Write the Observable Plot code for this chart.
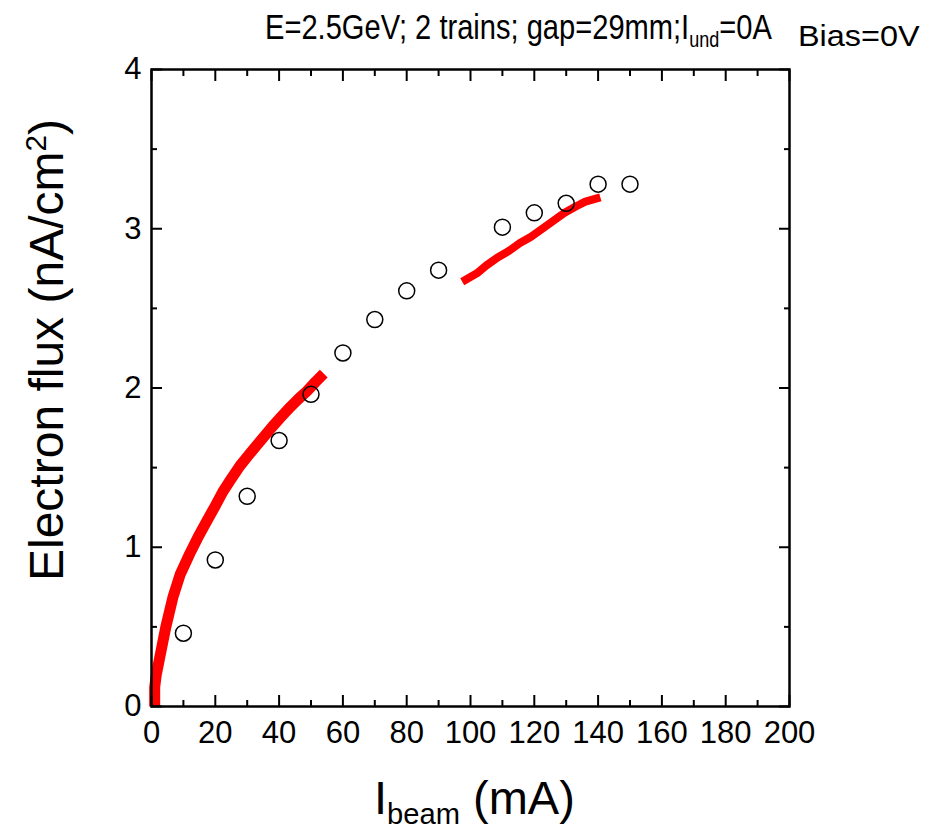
<!DOCTYPE html>
<html>
<head>
<meta charset="utf-8">
<script src="https://cdn.jsdelivr.net/npm/d3@7"></script>
<script src="https://cdn.jsdelivr.net/npm/@observablehq/plot@0.6"></script>
<style>
  body { margin: 0; background: #fff; }
  #wrap { position: relative; width: 930px; height: 830px; font-family: "Liberation Sans", Arial, sans-serif; }
  .lbl { position: absolute; color: #000; white-space: nowrap; line-height: 1; }
  sub, sup { font-size: 62%; line-height: 0; }
</style>
</head>
<body>
<div id="wrap"></div>
<script>
// Measured points (circles)
const measI = [10, 20, 30, 40, 50, 60, 70, 80, 90, 110, 120, 130, 140, 150];
const measFlux = [0.46, 0.92, 1.32, 1.67, 1.96, 2.22, 2.43, 2.61, 2.74, 3.01, 3.10, 3.16, 3.28, 3.28];
// Red curve segment 1 (low current)
const curve1I = [1, 1, 1.5, 2.5, 4.5, 6.7, 9, 12, 14.5, 17.2, 20, 22.4, 25, 27.7, 30.5, 33, 35.5, 38, 40.7, 43.5, 46, 48.7, 51.5, 54];
const curve1Flux = [0.0, 0.12, 0.2, 0.3, 0.5, 0.685, 0.83, 0.96, 1.06, 1.16, 1.26, 1.35, 1.43, 1.51, 1.58, 1.64, 1.70, 1.76, 1.82, 1.88, 1.93, 1.98, 2.04, 2.09];
// Red curve segment 2 (high current)
const curve2I = [98.5, 102, 105, 108.5, 112, 115.5, 119, 122.5, 126, 129.5, 133, 136, 139.5];
const curve2Flux = [2.68, 2.72, 2.77, 2.82, 2.86, 2.91, 2.95, 3.00, 3.05, 3.10, 3.14, 3.17, 3.19];
// Axis ticks
const xMajor = [0, 20, 40, 60, 80, 100, 120, 140, 160, 180, 200];
const xMinor = [10, 30, 50, 70, 90, 110, 130, 150, 170, 190];
const yMajor = [0, 1, 2, 3, 4];
const yMinor = [0.5, 1.5, 2.5, 3.5];

const meas = measI.map((x, i) => ({x, y: measFlux[i]}));
const c1 = curve1I.map((x, i) => ({x, y: curve1Flux[i]}));
const c2 = curve2I.map((x, i) => ({x, y: curve2Flux[i]}));

const font = "Liberation Sans, Arial, sans-serif";
const chart = Plot.plot({
  width: 930,
  height: 830,
  marginLeft: 151,
  marginRight: 141,
  marginTop: 69,
  marginBottom: 124,
  style: {fontFamily: font, fontSize: "31px", color: "#000", background: "#fff"},
  x: {domain: [0, 200]},
  y: {domain: [0, 4]},
  marks: [
    Plot.line(c1, {x: "x", y: "y", stroke: "#ff0000", strokeWidth: 11, strokeLinecap: "butt", strokeLinejoin: "round"}),
    Plot.line(c2, {x: "x", y: "y", stroke: "#ff0000", strokeWidth: 8, strokeLinecap: "square", strokeLinejoin: "miter"}),
    Plot.dot(meas, {x: "x", y: "y", r: 8, stroke: "#000", strokeWidth: 1.5, fill: "none"}),
    Plot.axisX(xMajor, {anchor: "bottom", tickSize: -11, tickPadding: 25, strokeWidth: 2, fontSize: 31, label: null, tickFormat: d => String(d)}),
    Plot.axisX(xMinor, {anchor: "bottom", tickSize: -6, tickFormat: () => "", strokeWidth: 2, label: null}),
    Plot.axisX(xMajor, {anchor: "top", tickSize: -11, tickFormat: () => "", strokeWidth: 2, label: null}),
    Plot.axisX(xMinor, {anchor: "top", tickSize: -6, tickFormat: () => "", strokeWidth: 2, label: null}),
    Plot.axisY(yMajor, {anchor: "left", tickSize: -11, tickPadding: 21, strokeWidth: 2, fontSize: 31, label: null, tickFormat: d => String(d)}),
    Plot.axisY(yMinor, {anchor: "left", tickSize: -6, tickFormat: () => "", strokeWidth: 2, label: null}),
    Plot.axisY(yMajor, {anchor: "right", tickSize: -11, tickFormat: () => "", strokeWidth: 2, label: null}),
    Plot.axisY(yMinor, {anchor: "right", tickSize: -6, tickFormat: () => "", strokeWidth: 2, label: null}),
    Plot.frame({stroke: "#000", strokeWidth: 2.5})
  ]
});
const wrap = document.getElementById("wrap");
wrap.appendChild(chart);

function addLabel(html, css) {
  const d = document.createElement("div");
  d.className = "lbl";
  d.innerHTML = html;
  Object.assign(d.style, css);
  wrap.appendChild(d);
  return d;
}
function fitWidth(el, w) {
  const s = w / el.offsetWidth;
  el.style.transformOrigin = "left top";
  el.style.transform = `scaleX(${s})`;
}
const t1 = addLabel('E=2.5GeV; 2 trains; gap=29mm;I<sub>und</sub>=0A', {left: "265px", top: "9px", fontSize: "35px"});
fitWidth(t1, 507);
const t2 = addLabel('Bias=0V', {left: "798px", top: "21px", fontSize: "30px"});
fitWidth(t2, 122);
addLabel('I<sub>beam</sub> (mA)', {left: "374px", top: "774px", fontSize: "47px"});
const yl = addLabel('Electron flux (nA/cm<sup>2</sup>)', {left: "0px", top: "0px", fontSize: "48px"});
const w = yl.offsetWidth, h = yl.offsetHeight;
yl.style.left = (47 - w / 2) + "px";
yl.style.top = (350 - h / 2) + "px";
yl.style.transform = "rotate(-90deg)";
</script>
</body>
</html>
